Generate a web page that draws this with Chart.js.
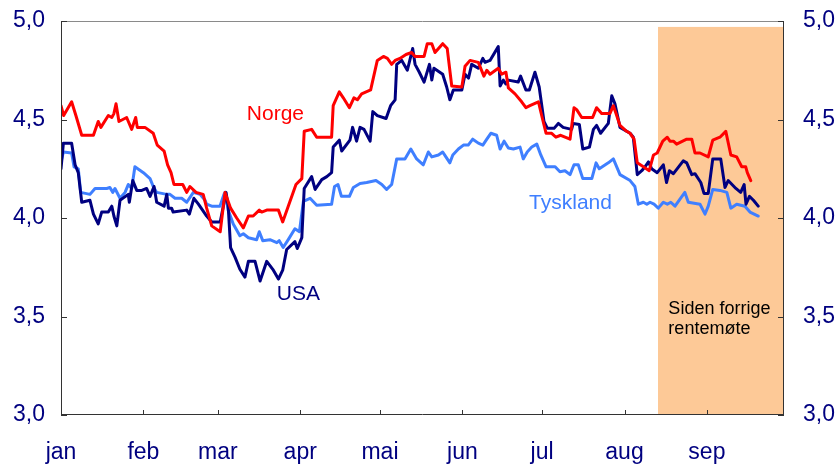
<!DOCTYPE html>
<html>
<head>
<meta charset="utf-8">
<script src="https://cdn.jsdelivr.net/npm/chart.js@4"></script>
<style>
  html, body { margin: 0; padding: 0; background: #fff; }
  #wrap { width: 839px; height: 465px; }
</style>
</head>
<body>
<div id="wrap"><canvas id="rateChart" width="839" height="465"></canvas></div>
<script>
// x = day of year (0 = 1 jan), y = rate in percent
const monthLabels = ['jan', 'feb', 'mar', 'apr', 'mai', 'jun', 'jul', 'aug', 'sep'];
const monthStartDays = [0, 31, 59, 90, 120, 151, 181, 212, 243];
const yTicks = [3.0, 3.5, 4.0, 4.5, 5.0];

const norgeDays = [0,1,4,5.6,7.8,12.2,14,15,17.8,19.1,19.9,20.7,21.8,24.7,26.6,28.1,28.7,31.6,34.7,36.2,
  38.8,40.1,41.4,42.5,45.8,47.3,48.5,50.8,53.5,54.8,56.7,59.9,61.7,63.8,66.1,68.6,70.5,72.3,74.6,75.5,
  77.4,81.8,83.4,85.5,88.4,90.6,91.5,94.3,96.2,101.8,102.4,104.7,106.2,108.5,110.2,111.5,113.1,116.5,119,121.3,
  122.8,124.4,125.7,127.5,129.8,131.9,133.2,136.6,137.8,139.5,140.7,143.6,145.3,147,150.8,152,153.9,157,159.1,160.2,
  161.4,164.5,165.8,167.4,168.3,170.8,173.3,174.9,176.4,179.6,181.2,182.5,184.6,186.2,188,191.5,193,194,195.9,200,
  201.5,203.4,206.5,207.8,208.8,210.3,212.8,214.1,215.6,216.8,219.1,221.3,222.9,224.3,226.4,228.1,229.1,230.4,231.6,235.4,
  237.3,238.5,240.4,243.5,245.2,247.9,250.1,252,254.2,256.1,257.6,258.2,259.5];
const norgeValues = [4.57,4.52,4.59,4.52,4.42,4.42,4.49,4.46,4.52,4.51,4.53,4.58,4.49,4.51,4.45,4.51,4.46,4.46,4.43,4.37,
  4.34,4.27,4.23,4.17,4.17,4.13,4.16,4.13,4.12,4.05,3.96,3.93,4.13,4.05,4.00,3.95,4.01,4.01,4.04,4.03,
  4.04,4.04,3.98,4.06,4.17,4.20,4.44,4.45,4.41,4.41,4.57,4.64,4.61,4.56,4.61,4.60,4.63,4.65,4.80,4.82,
  4.81,4.78,4.80,4.81,4.83,4.84,4.82,4.82,4.885,4.885,4.84,4.885,4.86,4.67,4.665,4.77,4.80,4.79,4.72,4.75,
  4.73,4.76,4.73,4.74,4.66,4.63,4.59,4.56,4.57,4.59,4.50,4.43,4.43,4.41,4.42,4.40,4.56,4.55,4.51,4.51,
  4.56,4.53,4.53,4.57,4.53,4.47,4.44,4.43,4.40,4.28,4.26,4.24,4.32,4.33,4.39,4.41,4.39,4.39,4.375,4.40,
  4.40,4.33,4.33,4.31,4.395,4.41,4.44,4.32,4.31,4.26,4.26,4.23,4.19];

const usaDays = [0,0.9,4,5.3,6.5,7.8,10.9,12.2,14,15.3,17.8,19.1,19.9,21,22.2,25.3,25.7,27,28.5,30.4,
  32.2,33.5,35,36,38.8,39.8,40.4,41.6,42.2,47.3,48.3,50,51.7,54.8,56.7,59.9,62.1,62.9,63.8,65.5,
  67.3,69.2,70.5,73,74.9,77.4,79.9,81.8,83.4,84.9,88,88.9,90.6,91.5,94.3,95.6,98.1,100,101.8,102.4,
  104.7,105.6,108.7,109.7,111.2,112.5,114,116.3,117.3,119,122.3,124,125.7,126.3,128.2,130.3,132.3,133.2,134.8,136.6,
  138.6,139.5,140.3,143.6,145.1,146.3,147.6,150.8,152,153.3,154.5,157,158.7,159.5,161.4,164.5,165.2,166.4,167.4,168.3,
  172,172.9,174.9,176.2,178.3,179.9,181.7,183,185.5,187.1,188.9,192.1,192.7,195,196.3,198.8,200.3,201.5,203,205.9,
  207.2,208.4,210.3,212.8,214.1,215.3,216.8,218.5,219.7,221,222.2,224.3,226.6,227.8,228.9,230.4,234.1,235.4,237.3,238.5,
  240.7,241.9,243.5,245.2,248.2,249.8,251,253.9,255.7,257,257.7,259,260.5,262.3];
const usaValues = [4.25,4.38,4.38,4.27,4.23,4.08,4.09,4.02,3.97,4.03,4.03,4.06,4.01,3.96,4.09,4.12,4.08,4.19,4.14,4.14,
  4.15,4.11,4.16,4.08,4.06,4.12,4.05,4.05,4.03,4.04,4.02,4.10,4.07,4.01,3.98,3.98,4.13,4.06,3.85,3.80,
  3.74,3.70,3.78,3.78,3.68,3.78,3.735,3.69,3.735,3.84,3.88,3.845,3.90,4.15,4.21,4.145,4.195,4.21,4.23,4.36,
  4.395,4.34,4.395,4.46,4.39,4.46,4.45,4.39,4.54,4.52,4.505,4.57,4.60,4.78,4.80,4.75,4.86,4.78,4.74,4.69,
  4.78,4.70,4.76,4.73,4.665,4.60,4.65,4.65,4.73,4.71,4.78,4.76,4.81,4.79,4.80,4.87,4.67,4.70,4.68,4.70,
  4.69,4.72,4.65,4.65,4.74,4.665,4.49,4.455,4.455,4.48,4.46,4.45,4.48,4.475,4.35,4.36,4.45,4.47,4.43,4.48,
  4.62,4.58,4.46,4.44,4.43,4.41,4.22,4.24,4.26,4.285,4.25,4.23,4.27,4.18,4.24,4.225,4.29,4.28,4.22,4.225,
  4.18,4.125,4.125,4.30,4.30,4.155,4.19,4.15,4.13,4.17,4.07,4.11,4.09,4.06];

const tysklandDays = [0,0.9,4,4.9,6.5,7.4,10.9,12.8,17.2,18.4,19.5,20.3,22.2,24.1,25.3,26.6,27.8,31,33.5,34.7,
  36,39.8,41,42.9,45.4,47.3,49.8,52.3,54.2,54.8,56.7,59.8,61.3,61.7,62.9,64.8,67.3,68.6,70.5,73.6,
  74.6,75.9,78.6,81.2,82.1,83.6,85.5,88,89.7,91.2,93.7,96.2,101.8,102.9,104.2,105.5,108.5,110,112.5,115,
  118.5,120.7,122.5,124.4,126.3,129.4,131.6,133.8,136.3,138.2,139.5,142,143.6,144.8,146.3,147.4,149.5,151.4,153.2,154.9,
  157,158.7,160.2,161.7,163.9,165.2,166.7,168.3,170.2,172.7,173.9,175.4,177.1,179,180.5,182.5,185.9,187.7,189.6,191.5,
  193,194.6,196.3,199.7,201.3,202.5,205.9,207.8,210.3,214.1,215.9,217.2,219.1,220.4,221.6,223.1,224.7,226.6,228.1,229.4,
  231,232.8,234.7,236,240.4,242.3,243.5,245.2,247.9,250.5,252,254.2,257.3,259.2,262.3];
const tysklandValues = [4.285,4.335,4.33,4.26,4.25,4.13,4.12,4.15,4.15,4.155,4.13,4.15,4.10,4.13,4.17,4.15,4.26,4.23,4.20,4.16,
  4.13,4.12,4.12,4.10,4.10,4.08,4.13,4.12,4.09,4.07,4.06,4.06,4.12,4.13,4.04,3.97,3.91,3.92,3.90,3.89,
  3.93,3.885,3.89,3.875,3.885,3.85,3.89,3.945,3.93,4.085,4.10,4.065,4.07,4.16,4.17,4.11,4.11,4.155,4.175,4.18,
  4.19,4.17,4.145,4.17,4.30,4.30,4.35,4.30,4.27,4.335,4.31,4.32,4.335,4.31,4.28,4.32,4.35,4.37,4.37,4.40,
  4.38,4.37,4.40,4.43,4.42,4.35,4.39,4.355,4.35,4.36,4.30,4.335,4.36,4.375,4.32,4.26,4.26,4.235,4.24,4.22,
  4.27,4.27,4.20,4.20,4.28,4.25,4.28,4.30,4.22,4.19,4.16,4.07,4.08,4.07,4.08,4.07,4.05,4.08,4.07,4.08,
  4.06,4.095,4.13,4.08,4.07,4.02,4.06,4.145,4.14,4.13,4.05,4.07,4.06,4.03,4.01];

// period since last monetary policy meeting
const shadeStartDay = 224.6;
const shadeEndDay = 272;
const shadeTopValue = 4.97;

const seriesLabels = [
  { text: 'Norge', day: 69.9, value: 4.496, color: '#ff0000' },
  { text: 'USA', day: 81.2, value: 3.583, color: '#000080' },
  { text: 'Tyskland', day: 176.1, value: 4.045, color: '#3f7fff' },
  { text: 'Siden forrige', day: 228.5, value: 3.512, color: '#000000', small: true },
  { text: 'rentemøte', day: 228.5, value: 3.41, color: '#000000', small: true }
];

function toPoints(days, values) {
  return days.map((d, i) => ({ x: d, y: values[i] }));
}

const fontFamily = '"Liberation Sans", Arial, sans-serif';
const axisColor = '#000080';

const decorPlugin = {
  id: 'decor',
  beforeDatasetsDraw(chart) {
    const { ctx, scales: { x, y } } = chart;
    const x0 = x.getPixelForValue(shadeStartDay);
    const x1 = x.getPixelForValue(shadeEndDay);
    const yTop = y.getPixelForValue(shadeTopValue);
    const yBot = y.getPixelForValue(3);
    ctx.save();
    ctx.fillStyle = '#fdc997';
    ctx.fillRect(x0, yTop, x1 - x0, yBot - yTop);
    ctx.restore();
  },
  afterDatasetsDraw(chart) {
    const { ctx, chartArea: a, scales: { x, y } } = chart;
    ctx.save();
    // frame
    ctx.lineWidth = 1;
    ctx.strokeStyle = '#8a8a8a';
    ctx.beginPath();
    ctx.moveTo(a.left, a.top + 0.5);
    ctx.lineTo(a.right, a.top + 0.5);
    ctx.stroke();
    ctx.strokeStyle = '#333333';
    ctx.beginPath();
    ctx.moveTo(a.left + 0.5, a.top);
    ctx.lineTo(a.left + 0.5, a.bottom);
    ctx.moveTo(a.right - 0.5, a.top);
    ctx.lineTo(a.right - 0.5, a.bottom);
    ctx.moveTo(a.left, a.bottom - 0.5);
    ctx.lineTo(a.right, a.bottom - 0.5);
    // inward ticks
    monthStartDays.forEach(d => {
      const px = Math.round(x.getPixelForValue(d)) + 0.5;
      ctx.moveTo(px, a.bottom);
      ctx.lineTo(px, a.bottom - 5);
    });
    yTicks.forEach(v => {
      const py = Math.round(y.getPixelForValue(v)) + 0.5;
      ctx.moveTo(a.left, py);
      ctx.lineTo(a.left + 6, py);
      ctx.moveTo(a.right, py);
      ctx.lineTo(a.right - 6, py);
    });
    ctx.stroke();
    // text labels
    ctx.textBaseline = 'alphabetic';
    ctx.textAlign = 'left';
    seriesLabels.forEach(l => {
      ctx.font = (l.small ? '18px ' : '21px ') + fontFamily;
      ctx.fillStyle = l.color;
      ctx.fillText(l.text, x.getPixelForValue(l.day), y.getPixelForValue(l.value));
    });
    ctx.restore();
  }
};

const yTickCallback = v => v.toFixed(1).replace('.', ',');
const fitY = width => scale => {
  scale.width = width;
  scale.paddingTop = 0;
  scale.paddingBottom = 0;
};

new Chart(document.getElementById('rateChart').getContext('2d'), {
  type: 'line',
  data: {
    datasets: [{
      label: 'Norge',
      data: toPoints(norgeDays, norgeValues),
      borderColor: '#ff0000',
      borderWidth: 3
    }, {
      label: 'USA',
      data: toPoints(usaDays, usaValues),
      borderColor: '#000080',
      borderWidth: 3
    }, {
      label: 'Tyskland',
      data: toPoints(tysklandDays, tysklandValues),
      borderColor: '#3f7fff',
      borderWidth: 3
    }]
  },
  options: {
    responsive: false,
    animation: false,
    events: [],
    layout: { padding: { top: 21, left: 0, right: 0, bottom: 0 } },
    elements: {
      point: { radius: 0 },
      line: { tension: 0, borderJoinStyle: 'round', borderCapStyle: 'round' }
    },
    plugins: {
      legend: { display: false },
      tooltip: { enabled: false }
    },
    scales: {
      x: {
        type: 'linear',
        min: 0,
        max: shadeEndDay,
        grid: { display: false, drawTicks: false },
        border: { display: false },
        afterBuildTicks: scale => { scale.ticks = monthStartDays.map(d => ({ value: d })); },
        afterFit: scale => {
          scale.height = 50;
          scale.paddingLeft = 0;
          scale.paddingRight = 0;
        },
        ticks: {
          autoSkip: false,
          maxRotation: 0,
          padding: 24,
          color: axisColor,
          font: { size: 23, family: fontFamily },
          callback: (v, i) => monthLabels[i]
        }
      },
      y: {
        position: 'left',
        min: 3,
        max: 5,
        grid: { display: false, drawTicks: false },
        border: { display: false },
        afterBuildTicks: scale => { scale.ticks = yTicks.map(v => ({ value: v })); },
        afterFit: fitY(61),
        ticks: {
          padding: 16,
          color: axisColor,
          font: { size: 23, family: fontFamily },
          callback: yTickCallback
        }
      },
      y2: {
        position: 'right',
        min: 3,
        max: 5,
        grid: { display: false, drawTicks: false },
        border: { display: false },
        afterBuildTicks: scale => { scale.ticks = yTicks.map(v => ({ value: v })); },
        afterFit: fitY(55),
        ticks: {
          padding: 19,
          color: axisColor,
          font: { size: 23, family: fontFamily },
          callback: yTickCallback
        }
      }
    }
  },
  plugins: [decorPlugin]
});
</script>
</body>
</html>
